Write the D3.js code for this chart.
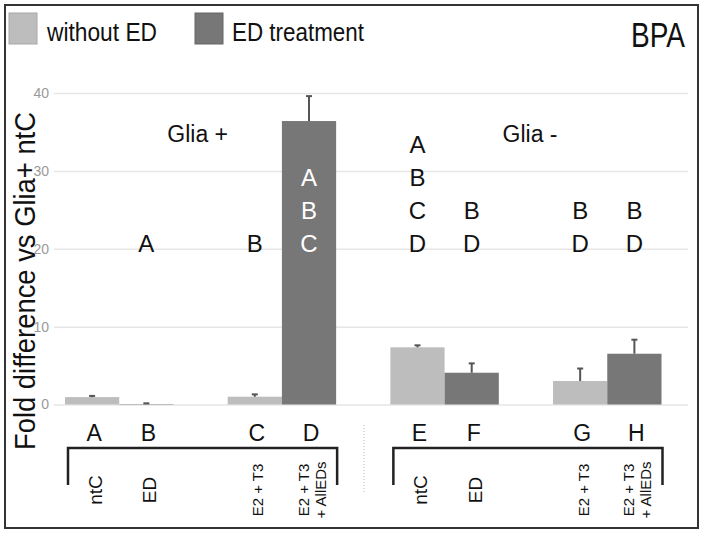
<!DOCTYPE html>
<html><head><meta charset="utf-8">
<script src="https://cdn.jsdelivr.net/npm/d3@7"></script>
<style>body{margin:0;background:#fff}svg{display:block;font-family:"Liberation Sans",Arial,sans-serif}</style>
</head><body>
<svg id="c" width="704" height="534"></svg>
<script>
// ---- data ----
const groups = ["Glia+ control", "Glia+ E2+T3", "Glia- control", "Glia- E2+T3"];
const series = ["without ED", "ED treatment"];
const withoutED = [0.95, 1.0, 7.34, 3.02];
const withoutEDErr = [0.15, 0.3, 0.26, 1.6];
const edTreatment = [0.05, 36.4, 4.08, 6.52];
const edTreatmentErr = [0.1, 3.2, 1.2, 1.8];
const barLetters = ["A", "B", "C", "D", "E", "F", "G", "H"];
const barLabels = [["ntC"], ["ED"], ["E2 + T3"], ["E2 + T3", "+ AllEDs"], ["ntC"], ["ED"], ["E2 + T3"], ["E2 + T3", "+ AllEDs"]];
const sigLetters = [[], ["A"], ["B"], ["A", "B", "C"], ["A", "B", "C", "D"], ["B", "D"], ["B", "D"], ["B", "D"]];
const gliaLabels = ["Glia +", "Glia -"];
const yTicks = [0, 10, 20, 30, 40];
const yTitle = "Fold difference vs Glia+ ntC";
const chartTitle = "BPA";

const colors = ["#bdbdbd", "#777777"];
const svg = d3.select("#c");

// frame
svg.append("rect").attr("x", 5).attr("y", 5).attr("width", 693).attr("height", 523)
  .attr("fill", "none").attr("stroke", "#333").attr("stroke-width", 2);

// y title (drawn beneath the tick labels)
svg.append("text").attr("transform", "translate(35,281) rotate(-90)")
  .attr("text-anchor", "middle").attr("font-size", 30).attr("fill", "#111")
  .attr("textLength", 338).attr("lengthAdjust", "spacingAndGlyphs").text(yTitle);

// scales
const y = d3.scaleLinear().domain([0, 40]).range([404.5, 93]);
const x0 = d3.scaleBand().domain(groups).range([65, 661.5]).paddingInner(1/3).paddingOuter(0);
const x1 = d3.scaleBand().domain(series).range([0, x0.bandwidth()]);

// gridlines / axis
const ax = svg.append("g").attr("transform", "translate(54,0)")
  .call(d3.axisLeft(y).tickValues(yTicks).tickSize(-(688 - 54)).tickPadding(5));
ax.select(".domain").remove();
ax.selectAll(".tick line").attr("stroke", "#e6e6e6").attr("stroke-width", 1.5);
ax.selectAll(".tick text").attr("fill", "#9a9a9a").attr("font-size", 14)
  .attr("font-family", "Liberation Sans, Arial, sans-serif");

// bars
const bars = [];
groups.forEach((g, i) => {
  bars.push({g, s: series[0], v: withoutED[i], e: withoutEDErr[i]});
  bars.push({g, s: series[1], v: edTreatment[i], e: edTreatmentErr[i]});
});
bars.forEach((b, i) => { b.x = x0(b.g) + x1(b.s); b.cx = b.x + x1.bandwidth() / 2; b.i = i; });

svg.append("g").selectAll("rect").data(bars).join("rect")
  .attr("x", d => d.x).attr("width", x1.bandwidth())
  .attr("y", d => y(d.v)).attr("height", d => y(0) - y(d.v))
  .attr("fill", d => colors[series.indexOf(d.s)]);

// error bars
const eb = svg.append("g").attr("stroke", "#555").attr("stroke-width", 2);
bars.forEach(d => {
  eb.append("line").attr("x1", d.cx).attr("x2", d.cx).attr("y1", y(d.v)).attr("y2", y(d.v + d.e));
  eb.append("line").attr("x1", d.cx - 3).attr("x2", d.cx + 3).attr("y1", y(d.v + d.e)).attr("y2", y(d.v + d.e));
});

// significance letters
bars.forEach(d => {
  const L = sigLetters[d.i];
  L.forEach((t, k) => {
    const row = L.length - 1 - k;
    svg.append("text").attr("x", d.cx).attr("y", 252 - row * 33)
      .attr("text-anchor", "middle").attr("font-size", 24)
      .attr("fill", d.i === 3 ? "#fff" : "#111").text(t);
  });
});

// Glia labels
const gliaX = [x0(groups[1]) - 30, x0(groups[3]) - 23];
gliaLabels.forEach((t, k) => {
  svg.append("text").attr("x", gliaX[k]).attr("y", 142)
    .attr("text-anchor", "middle").attr("font-size", 23).attr("fill", "#111").text(t);
});

// bottom bar letters
bars.forEach(d => {
  svg.append("text").attr("x", d.cx + 2).attr("y", 441).attr("text-anchor", "middle")
    .attr("font-size", 23).attr("fill", "#111").text(barLetters[d.i]);
});

// brackets
[[0, 3], [4, 7]].forEach(([a, b]) => {
  const xa = bars[a].x + 3, xb = bars[b].x + x1.bandwidth() + 1;
  svg.append("path").attr("d", `M${xa},485V448H${xb}V485`)
    .attr("fill", "none").attr("stroke", "#222").attr("stroke-width", 2.5);
});

// dotted separator
svg.append("line").attr("x1", 364).attr("x2", 364).attr("y1", 425).attr("y2", 493)
  .attr("stroke", "#bbb").attr("stroke-width", 1).attr("stroke-dasharray", "1,2");

// rotated bar labels
bars.forEach(d => {
  const lines = barLabels[d.i];
  const fs = lines[0].length > 3 ? 15 : 19;
  const cap = fs * 0.72;
  const lh = 17;
  const n = lines.length;
  lines.forEach((t, k) => {
    const bx = d.cx + 3 + cap / 2 + (k - (n - 1) / 2) * lh;
    svg.append("text").attr("transform", `translate(${bx},490) rotate(-90)`)
      .attr("text-anchor", "middle").attr("font-size", fs).attr("fill", "#111").text(t);
  });
});

// legend
const leg = [{x: 9, tx: 47, tl: 110}, {x: 195, tx: 232, tl: 132}];
leg.forEach((l, i) => {
  svg.append("rect").attr("x", l.x).attr("y", 13).attr("width", 28).attr("height", 31)
    .attr("fill", colors[i]).attr("stroke", i ? "#666" : "#a8a8a8").attr("stroke-width", 1);
  svg.append("text").attr("x", l.tx).attr("y", 41).attr("font-size", 26).attr("fill", "#111")
    .attr("textLength", l.tl).attr("lengthAdjust", "spacingAndGlyphs").text(series[i]);
});

// title
svg.append("text").attr("x", 631).attr("y", 47).attr("font-size", 35).attr("fill", "#111")
  .attr("textLength", 54).attr("lengthAdjust", "spacingAndGlyphs").text(chartTitle);
</script>
</body></html>
